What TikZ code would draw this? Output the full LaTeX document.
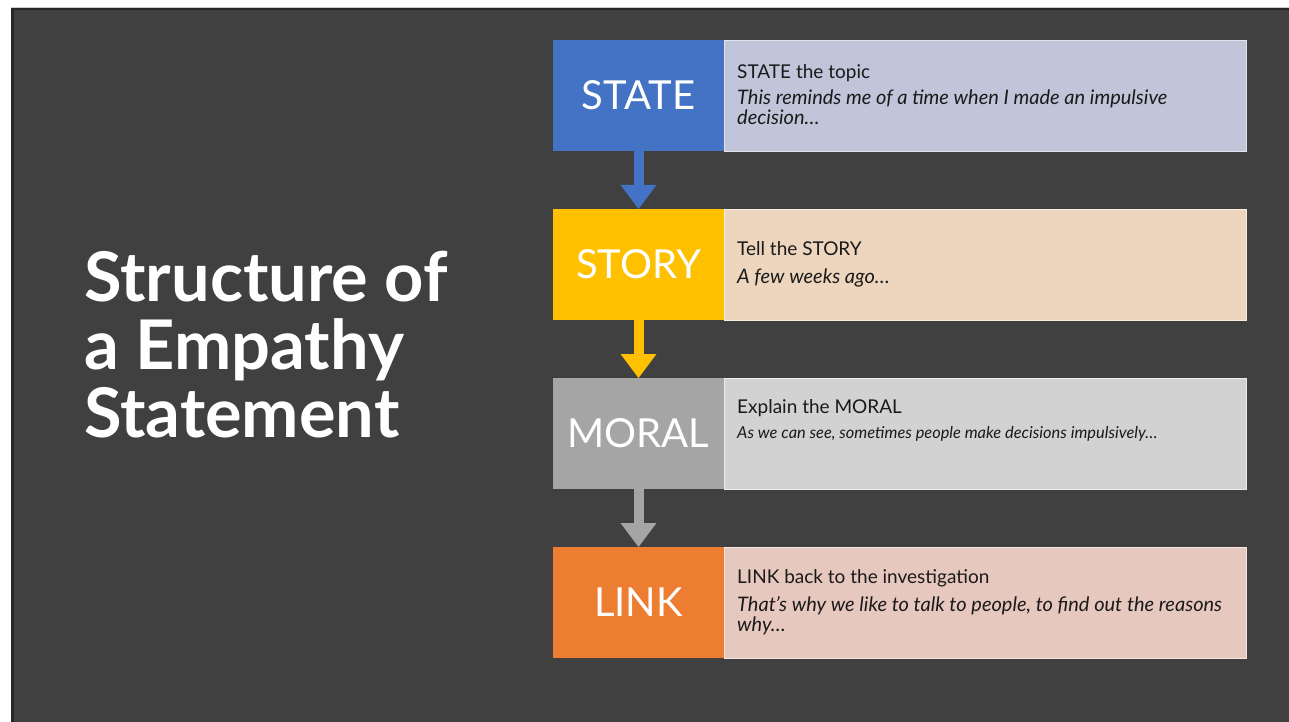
\documentclass[tikz,border=0pt]{standalone}
\usepackage{fontspec}
\setmainfont{Lato}
\usetikzlibrary{arrows.meta}
\definecolor{slidebg}{HTML}{404040}
\definecolor{cblue}{HTML}{4472C4}
\definecolor{cyellow}{HTML}{FFC000}
\definecolor{cgray}{HTML}{A5A5A5}
\definecolor{corange}{HTML}{ED7D31}
\definecolor{lblue}{HTML}{C1C5DA}
\definecolor{lyellow}{HTML}{EDD6BD}
\definecolor{lgray}{HTML}{D2D2D2}
\definecolor{lorange}{HTML}{E6C8BE}
\definecolor{txt}{HTML}{1A1A1A}
\newcommand{\itl}{\fontsize{20}{20}\itshape\selectfont}
\tikzset{
  labelbox/.style={anchor=north west, minimum width=171pt, minimum height=111pt, inner sep=0pt, outer sep=0pt, text=white, font=\fontsize{40}{40}\selectfont},
  descbox/.style={anchor=north west, minimum width=522pt, minimum height=111pt, inner sep=0pt, outer sep=0pt, draw=white!55!#1, line width=0.8pt, fill=#1},
  desctext/.style={anchor=north west, inner sep=0pt, align=left, text=txt, font=\fontsize{19}{20}\selectfont},
  flowarrow/.style={line width=10pt, draw=#1, -{Triangle[width=36pt,length=24pt,line width=0pt,fill=#1]}},
  titleline/.style={anchor=base west, inner sep=0pt, text=white, font=\fontsize{68.5}{68}\bfseries\selectfont}
}
\begin{document}
\begin{tikzpicture}[x=1pt,y=-1pt]
\useasboundingbox (0,0) rectangle (1289,722);
\fill[white] (0,0) rectangle (1289,722);
\fill[slidebg] (12.5,8.5) rectangle (1289,722);
\draw[black!85, line width=3pt] (12.5,722) -- (12.5,9) -- (1289,9);
\draw[gray!40, line width=0.6pt] (11,7.3) -- (1289,7.3);

% title
\node[titleline] (t1) at (84,301) {Structure of};
\node[titleline] (t2) at (84,369) {a Empathy};
\node[titleline] (t3) at (84,437) {Statement};

% label boxes
\node[labelbox, fill=cblue] (a1) at (553,40) {STATE};
\node[labelbox, fill=cyellow] (a2) at (553,209) {STORY};
\node[labelbox, fill=cgray] (a3) at (553,378) {MORAL};
\node[labelbox, fill=corange] (a4) at (553,547) {LINK};

% description boxes
\node[descbox=lblue] (b1) at (724,40) {};
\node[descbox=lyellow] (b2) at (724,209) {};
\node[descbox=lgray] (b3) at (724,378) {};
\node[descbox=lorange] (b4) at (724,547) {};

\node[desctext] (d1) at (737,64) {STATE the topic\\[6pt]{\itl This reminds me of a time when I made an impulsive}\\{\itl decision…}};
\node[desctext] (d2) at (737,241) {Tell the STORY\\[8pt]{\itl A few weeks ago…}};
\node[desctext] (d3) at (737,399) {Explain the MORAL\\[5pt]{\fontsize{16.4}{17}\itshape\selectfont As we can see, sometimes people make decisions impulsively…}};
\node[desctext] (d4) at (737,569) {LINK back to the investigation\\[8pt]{\itl That’s why we like to talk to people, to find out the reasons}\\{\itl why…}};

% arrows
\draw[flowarrow=cblue] (a1.south) -- (a2.north);
\draw[flowarrow=cyellow] (a2.south) -- (a3.north);
\draw[flowarrow=cgray] (a3.south) -- (a4.north);
\end{tikzpicture}
\end{document}
